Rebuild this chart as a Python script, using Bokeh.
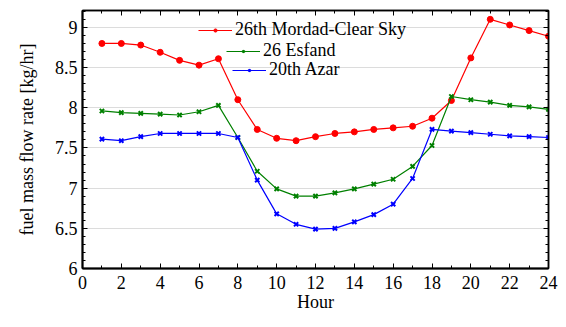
from bokeh.plotting import figure
from bokeh.models import (Range1d, LinearAxis, SingleIntervalTicker, Legend,
                          LegendItem)
from bokeh.embed import file_html
from bokeh.resources import INLINE

hours = list(range(1, 25))
mordad = [8.80, 8.80, 8.78, 8.69, 8.59, 8.53, 8.61, 8.10, 7.73, 7.62, 7.59, 7.64,
          7.68, 7.70, 7.73, 7.75, 7.77, 7.87, 8.09, 8.62, 9.10, 9.03, 8.96, 8.89]
esfand = [7.96, 7.94, 7.93, 7.92, 7.91, 7.95, 8.03, 7.63, 7.21, 6.99, 6.90, 6.90,
          6.94, 6.99, 7.05, 7.11, 7.27, 7.53, 8.14, 8.10, 8.07, 8.03, 8.01, 7.98]
azar = [7.61, 7.59, 7.64, 7.68, 7.68, 7.68, 7.68, 7.63, 7.10, 6.68, 6.55, 6.49,
        6.50, 6.58, 6.67, 6.80, 7.12, 7.73, 7.71, 7.69, 7.67, 7.65, 7.64, 7.63]
series_names = ["26th Mordad-Clear Sky", "26 Esfand", "20th Azar"]

FONT = "Liberation Serif"

p = figure(width=566, height=327, output_backend="svg", toolbar_location=None,
           x_range=Range1d(0, 24), y_range=Range1d(6, 9.21),
           min_border_left=82, min_border_right=18, min_border_top=10,
           min_border_bottom=59)
p.background_fill_color = "white"
p.border_fill_color = "white"
p.outline_line_color = "black"
p.outline_line_width = 1.5

p.xgrid.grid_line_color = None
p.ygrid.grid_line_color = "#dcdcdc"
p.ygrid.grid_line_width = 1

xt = SingleIntervalTicker(interval=2, num_minor_ticks=2)
yt = SingleIntervalTicker(interval=0.5, num_minor_ticks=5)
p.xaxis.ticker = xt
p.yaxis.ticker = yt
p.ygrid.ticker = yt

for ax in (p.xaxis[0], p.yaxis[0]):
    ax.axis_line_width = 2
    ax.major_tick_in = 5
    ax.major_tick_out = 0
    ax.minor_tick_in = 3
    ax.minor_tick_out = 0
    ax.major_label_text_font = FONT
    ax.major_label_text_font_size = "18px"
    ax.major_label_text_color = "black"
    ax.axis_label_text_font = FONT
    ax.axis_label_text_font_size = "18px"
    ax.axis_label_text_font_style = "normal"
    ax.axis_label_text_color = "black"

p.xaxis.axis_label = "Hour"
p.xaxis.major_label_standoff = 7
p.xaxis.axis_label_standoff = 0
p.yaxis.axis_label = "fuel mass flow rate [kg/hr]"
p.yaxis.major_label_standoff = 5
p.yaxis.axis_label_standoff = 15

# mirrored tick marks on the top and right edges
top = LinearAxis(ticker=xt, major_label_text_alpha=0, major_label_text_font_size="1px",
                 major_tick_in=5, major_tick_out=0, minor_tick_in=3, minor_tick_out=0,
                 axis_line_width=1.5)
right = LinearAxis(ticker=yt, major_label_text_alpha=0, major_label_text_font_size="1px",
                   major_tick_in=5, major_tick_out=0, minor_tick_in=3, minor_tick_out=0,
                   axis_line_width=1.5)
p.add_layout(top, "above")
p.add_layout(right, "right")
top.major_label_standoff = 0
right.major_label_standoff = 0

r1l = p.line(hours, mordad, color="#ff0000", line_width=1.2)
r1m = p.scatter(hours, mordad, marker="circle", size=6, color="#ff0000")
r2l = p.line(hours, esfand, color="#008000", line_width=1.2)
r2m = p.scatter(hours, esfand, marker="x", size=6, line_color="#008000", line_width=2)
r3l = p.line(hours, azar, color="#0000ff", line_width=1.2)
r3m = p.scatter(hours, azar, marker="x", size=6, line_color="#0000ff", line_width=2)

entries = [([r1l, r1m], series_names[0], (116, 228)),
           ([r2l, r2m], series_names[1], (144, 207)),
           ([r3l, r3m], series_names[2], (150, 188))]
for rends, label, loc in entries:
    leg = Legend(items=[LegendItem(label=label, renderers=rends)], location=loc,
                 border_line_color=None, background_fill_alpha=0,
                 padding=0, margin=0, spacing=0, glyph_width=34, glyph_height=8,
                 label_height=18, label_standoff=3,
                 label_text_font=FONT, label_text_font_size="18px",
                 label_text_color="black")
    p.add_layout(leg, "center")

open("out.html", "w").write(file_html(p, INLINE))
